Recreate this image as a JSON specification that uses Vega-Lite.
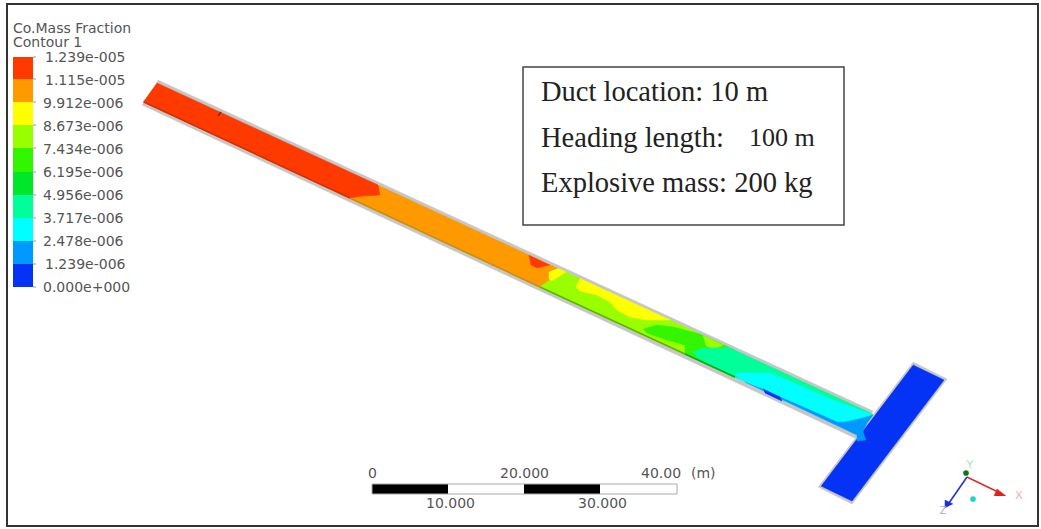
{"$schema":"https://vega.github.io/schema/vega-lite/v6.json","width":1041,"height":529,"padding":0,"autosize":{"type":"fit","contains":"padding"},"background":"white","config":{"view":{"stroke":null}},
"resolve":{"scale":{"color":"independent","fill":"independent","stroke":"independent"}},
"encoding":{"x":{"field":"x","type":"quantitative","scale":{"domain":[0,1041],"nice":false,"zero":false},"axis":null},"y":{"field":"y","type":"quantitative","scale":{"domain":[529,0],"nice":false,"zero":false},"axis":null}},
"layer":[
{"data":{"values":[
{"p":"wall1","b":"wall","i":0,"x":158,"y":80},{"p":"wall1","b":"wall","i":1,"x":873,"y":411},{"p":"wall1","b":"wall","i":2,"x":857,"y":439},{"p":"wall1","b":"wall","i":3,"x":142,"y":105},
{"p":"wall2","b":"wall","i":0,"x":913,"y":362},{"p":"wall2","b":"wall","i":1,"x":947,"y":379},{"p":"wall2","b":"wall","i":2,"x":852,"y":504},{"p":"wall2","b":"wall","i":3,"x":818,"y":487},
{"p":"cross","b":"b1","i":0,"x":913,"y":365},{"p":"cross","b":"b1","i":1,"x":944,"y":380},{"p":"cross","b":"b1","i":2,"x":852,"y":501},{"p":"cross","b":"b1","i":3,"x":821,"y":486},
{"p":"o1","b":"b9","i":0,"x":370,"y":181.5},{"p":"o1","b":"b9","i":1,"x":558,"y":268.5},{"p":"o1","b":"b9","i":2,"x":549,"y":272},{"p":"o1","b":"b9","i":3,"x":550,"y":280},{"p":"o1","b":"b9","i":4,"x":540,"y":287},{"p":"o1","b":"b9","i":5,"x":340,"y":194},
{"p":"r1","b":"b10","i":0,"x":157,"y":83},{"p":"r1","b":"b10","i":1,"x":378,"y":185},{"p":"r1","b":"b10","i":2,"x":380,"y":195},{"p":"r1","b":"b10","i":3,"x":363,"y":196},{"p":"r1","b":"b10","i":4,"x":350,"y":198},{"p":"r1","b":"b10","i":5,"x":143,"y":102},
{"p":"r2","b":"b10","i":0,"x":529,"y":255},{"p":"r2","b":"b10","i":1,"x":531,"y":265},{"p":"r2","b":"b10","i":2,"x":537,"y":268},{"p":"r2","b":"b10","i":3,"x":545,"y":266},{"p":"r2","b":"b10","i":4,"x":550,"y":265},
{"p":"l1","b":"b7","i":0,"x":549,"y":272},{"p":"l1","b":"b7","i":1,"x":558,"y":268.5},{"p":"l1","b":"b7","i":2,"x":700,"y":334},{"p":"l1","b":"b7","i":3,"x":692,"y":352},{"p":"l1","b":"b7","i":4,"x":685,"y":354},{"p":"l1","b":"b7","i":5,"x":540,"y":287},{"p":"l1","b":"b7","i":6,"x":550,"y":280},
{"p":"y1","b":"b8","i":0,"x":558,"y":268.5},{"p":"y1","b":"b8","i":1,"x":566,"y":272},{"p":"y1","b":"b8","i":2,"x":552,"y":281},{"p":"y1","b":"b8","i":3,"x":549,"y":279},{"p":"y1","b":"b8","i":4,"x":549,"y":272},
{"p":"y2","b":"b8","i":0,"x":580,"y":278.6},{"p":"y2","b":"b8","i":1,"x":670,"y":320},{"p":"y2","b":"b8","i":2,"x":647,"y":320},{"p":"y2","b":"b8","i":3,"x":630,"y":317},{"p":"y2","b":"b8","i":4,"x":617,"y":310},{"p":"y2","b":"b8","i":5,"x":610,"y":302},{"p":"y2","b":"b8","i":6,"x":597,"y":295},{"p":"y2","b":"b8","i":7,"x":580,"y":291},{"p":"y2","b":"b8","i":8,"x":576,"y":287},
{"p":"g1","b":"b6","i":0,"x":643,"y":329},{"p":"g1","b":"b6","i":1,"x":657,"y":325},{"p":"g1","b":"b6","i":2,"x":673,"y":327},{"p":"g1","b":"b6","i":3,"x":700,"y":334},{"p":"g1","b":"b6","i":4,"x":735,"y":350},{"p":"g1","b":"b6","i":5,"x":735,"y":378},{"p":"g1","b":"b6","i":6,"x":685,"y":354},{"p":"g1","b":"b6","i":7,"x":685,"y":345},{"p":"g1","b":"b6","i":8,"x":667,"y":340},{"p":"g1","b":"b6","i":9,"x":647,"y":333},
{"p":"l2","b":"b7","i":0,"x":703,"y":335.5},{"p":"l2","b":"b7","i":1,"x":723,"y":345},{"p":"l2","b":"b7","i":2,"x":715,"y":349},{"p":"l2","b":"b7","i":3,"x":706,"y":346},
{"p":"s1","b":"b4","i":0,"x":692,"y":352},{"p":"s1","b":"b4","i":1,"x":703,"y":348},{"p":"s1","b":"b4","i":2,"x":723,"y":348},{"p":"s1","b":"b4","i":3,"x":728,"y":347},{"p":"s1","b":"b4","i":4,"x":873,"y":414},{"p":"s1","b":"b4","i":5,"x":858,"y":432},{"p":"s1","b":"b4","i":6,"x":737,"y":378},{"p":"s1","b":"b4","i":7,"x":730,"y":375},{"p":"s1","b":"b4","i":8,"x":710,"y":365},{"p":"s1","b":"b4","i":9,"x":697,"y":357},
{"p":"c1","b":"b3","i":0,"x":735,"y":373},{"p":"c1","b":"b3","i":1,"x":770,"y":373},{"p":"c1","b":"b3","i":2,"x":787,"y":380},{"p":"c1","b":"b3","i":3,"x":810,"y":390},{"p":"c1","b":"b3","i":4,"x":833,"y":400},{"p":"c1","b":"b3","i":5,"x":860,"y":410},{"p":"c1","b":"b3","i":6,"x":873,"y":415},{"p":"c1","b":"b3","i":7,"x":858,"y":434},{"p":"c1","b":"b3","i":8,"x":738,"y":378},
{"p":"a1","b":"b2","i":0,"x":760,"y":388},{"p":"a1","b":"b2","i":1,"x":780,"y":397},{"p":"a1","b":"b2","i":2,"x":810,"y":410},{"p":"a1","b":"b2","i":3,"x":837,"y":422},{"p":"a1","b":"b2","i":4,"x":845,"y":422},{"p":"a1","b":"b2","i":5,"x":863,"y":418},{"p":"a1","b":"b2","i":6,"x":873,"y":415},{"p":"a1","b":"b2","i":7,"x":867,"y":423},{"p":"a1","b":"b2","i":8,"x":863,"y":432},{"p":"a1","b":"b2","i":9,"x":866,"y":440},{"p":"a1","b":"b2","i":10,"x":857,"y":441},{"p":"a1","b":"b2","i":11,"x":857,"y":435},{"p":"a1","b":"b2","i":12,"x":745,"y":382},
{"p":"bl","b":"b1","i":0,"x":763,"y":389},{"p":"bl","b":"b1","i":1,"x":780,"y":397},{"p":"bl","b":"b1","i":2,"x":782,"y":401},{"p":"bl","b":"b1","i":3,"x":765,"y":393},
{"p":"hx","b":"axX","i":0,"x":1006,"y":496},{"p":"hx","b":"axX","i":1,"x":997,"y":489},{"p":"hx","b":"axX","i":2,"x":994,"y":496},
{"p":"hz","b":"axZ","i":0,"x":945,"y":508},{"p":"hz","b":"axZ","i":1,"x":945,"y":500},{"p":"hz","b":"axZ","i":2,"x":953,"y":504}
]},"mark":{"type":"line","strokeWidth":0.5},"encoding":{"detail":{"field":"p"},"order":{"field":"i","type":"quantitative"},"fill":{"field":"b","type":"nominal","legend":null,"scale":{"domain":["wall","b1","b2","b3","b4","b5","b6","b7","b8","b9","b10","axX","axZ"],"range":["#c6c6c6","#0533f5","#0099ff","#00ffff","#00ff99","#00e62a","#33f500","#99ff00","#ffff00","#ff9900","#ff3a00","#e0201c","#1a2ee0"]}},"stroke":{"field":"b","type":"nominal","legend":null,"scale":{"domain":["wall","b1","b2","b3","b4","b5","b6","b7","b8","b9","b10","axX","axZ"],"range":["#c6c6c6","#0533f5","#0099ff","#00ffff","#00ff99","#00e62a","#33f500","#99ff00","#ffff00","#ff9900","#ff3a00","#e0201c","#1a2ee0"]}}}},
{"data":{"values":[
{"p":"e1","c":"dred","i":0,"x":144,"y":102},{"p":"e1","c":"dred","i":1,"x":350,"y":198},
{"p":"e2","c":"dorange","i":0,"x":350,"y":198},{"p":"e2","c":"dorange","i":1,"x":540,"y":287},
{"p":"e3","c":"dlime","i":0,"x":540,"y":287},{"p":"e3","c":"dlime","i":1,"x":685,"y":354},
{"p":"e4","c":"dgreen","i":0,"x":685,"y":354},{"p":"e4","c":"dgreen","i":1,"x":735,"y":377},
{"p":"tick","c":"dark","i":0,"x":221,"y":112},{"p":"tick","c":"dark","i":1,"x":218,"y":116},
{"p":"axx","c":"xline","i":0,"x":967,"y":477},{"p":"axx","c":"xline","i":1,"x":998,"y":492},
{"p":"axz","c":"zline","i":0,"x":967,"y":477},{"p":"axz","c":"zline","i":1,"x":949,"y":503}
]},"mark":{"type":"line","strokeWidth":1.6},"encoding":{"detail":{"field":"p"},"order":{"field":"i","type":"quantitative"},"color":{"field":"c","type":"nominal","legend":null,"scale":{"domain":["dred","dorange","dlime","dgreen","dark","xline","zline"],"range":["#d63000","#c98f10","#58b800","#10a818","#7a3020","#d8302a","#2233d8"]}}}},
{"data":{"values":[
{"k":"b10","x":13,"x2":33,"y":57,"y2":79},{"k":"b9","x":13,"x2":33,"y":79,"y2":102},{"k":"b8","x":13,"x2":33,"y":102,"y2":125},{"k":"b7","x":13,"x2":33,"y":125,"y2":148},{"k":"b6","x":13,"x2":33,"y":148,"y2":172},{"k":"b5","x":13,"x2":33,"y":172,"y2":195},{"k":"b4","x":13,"x2":33,"y":195,"y2":218},{"k":"b3","x":13,"x2":33,"y":218,"y2":241},{"k":"b2","x":13,"x2":33,"y":241,"y2":264},{"k":"b1","x":13,"x2":33,"y":264,"y2":287},
{"k":"black","x":372,"x2":448,"y":484,"y2":494},{"k":"white","x":448,"x2":524,"y":484,"y2":494},{"k":"black","x":524,"x2":600,"y":484,"y2":494},{"k":"white","x":600,"x2":677,"y":484,"y2":494}
]},"mark":{"type":"rect"},"encoding":{"x2":{"field":"x2"},"y2":{"field":"y2"},"fill":{"field":"k","type":"nominal","legend":null,"scale":{"domain":["b1","b2","b3","b4","b5","b6","b7","b8","b9","b10","black","white"],"range":["#0533f5","#0099ff","#00ffff","#00ff99","#00e62a","#33f500","#99ff00","#ffff00","#ff9900","#ff3a00","#000000","#ffffff"]}}}},
{"data":{"values":[{"x":33,"x2":36,"y":57},{"x":33,"x2":36,"y":79},{"x":33,"x2":36,"y":102},{"x":33,"x2":36,"y":125},{"x":33,"x2":36,"y":148},{"x":33,"x2":36,"y":172},{"x":33,"x2":36,"y":195},{"x":33,"x2":36,"y":218},{"x":33,"x2":36,"y":241},{"x":33,"x2":36,"y":264},{"x":33,"x2":36,"y":287}]},"mark":{"type":"rule","stroke":"#999999","strokeWidth":1},"encoding":{"x2":{"field":"x2"}}},
{"data":{"values":[{"x":372,"x2":677,"y":484,"y2":494}]},"mark":{"type":"rect","fill":null,"stroke":"#aaaaaa","strokeWidth":1},"encoding":{"x2":{"field":"x2"},"y2":{"field":"y2"}}},
{"data":{"values":[{"x":523,"x2":844,"y":67,"y2":225}]},"mark":{"type":"rect","fill":null,"stroke":"#444444","strokeWidth":1.5},"encoding":{"x2":{"field":"x2"},"y2":{"field":"y2"}}},
{"data":{"values":[{"x":7,"x2":1038,"y":4,"y2":526}]},"mark":{"type":"rect","fill":null,"stroke":"#333333","strokeWidth":2},"encoding":{"x2":{"field":"x2"},"y2":{"field":"y2"}}},
{"data":{"values":[
{"t":"Co.Mass Fraction","x":13,"y":29},{"t":"Contour 1","x":13,"y":43},
{"t":"1.239e-005","x":45,"y":58},{"t":"1.115e-005","x":45,"y":81},{"t":"9.912e-006","x":43,"y":104},{"t":"8.673e-006","x":43,"y":127},{"t":"7.434e-006","x":43,"y":150},{"t":"6.195e-006","x":43,"y":173},{"t":"4.956e-006","x":43,"y":196},{"t":"3.717e-006","x":43,"y":219},{"t":"2.478e-006","x":43,"y":242},{"t":"1.239e-006","x":45,"y":265},{"t":"0.000e+000","x":43,"y":288},
{"t":"0","x":368,"y":474},{"t":"20.000","x":500,"y":474},{"t":"40.00","x":641,"y":474},{"t":"(m)","x":691,"y":474},{"t":"10.000","x":426,"y":504},{"t":"30.000","x":578,"y":504}
]},"mark":{"type":"text","font":"DejaVu Sans","fontSize":14,"align":"left","baseline":"middle","fill":"#555555"},"encoding":{"text":{"field":"t"}}},
{"data":{"values":[
{"t":"Duct location: 10 m","x":541,"y":92},{"t":"Heading length:","x":541,"y":138},{"t":"Explosive mass: 200 kg","x":541,"y":183}
]},"mark":{"type":"text","font":"Liberation Serif","fontSize":28.5,"align":"left","baseline":"middle","fill":"#222222"},"encoding":{"text":{"field":"t"}}},
{"data":{"values":[{"t":"100 m","x":749,"y":138}]},"mark":{"type":"text","font":"Liberation Serif","fontSize":26,"align":"left","baseline":"middle","fill":"#222222"},"encoding":{"text":{"field":"t"}}},
{"data":{"values":[{"t":"X","x":1019,"y":496,"c":"X"},{"t":"Y","x":970,"y":465,"c":"Y"},{"t":"Z","x":943,"y":511,"c":"Z"}]},"mark":{"type":"text","font":"Liberation Sans","fontSize":11,"align":"center","baseline":"middle"},"encoding":{"text":{"field":"t"},"color":{"field":"c","type":"nominal","legend":null,"scale":{"domain":["X","Y","Z"],"range":["#f5a8a8","#a8e0a8","#a8a8f0"]}}}},
{"data":{"values":[{"x":966,"y":473,"c":"o"},{"x":973,"y":499,"c":"m"}]},"mark":{"type":"point","filled":true,"size":32,"opacity":1},"encoding":{"color":{"field":"c","type":"nominal","legend":null,"scale":{"domain":["o","m"],"range":["#0a7a10","#20cfd0"]}}}}
]}
